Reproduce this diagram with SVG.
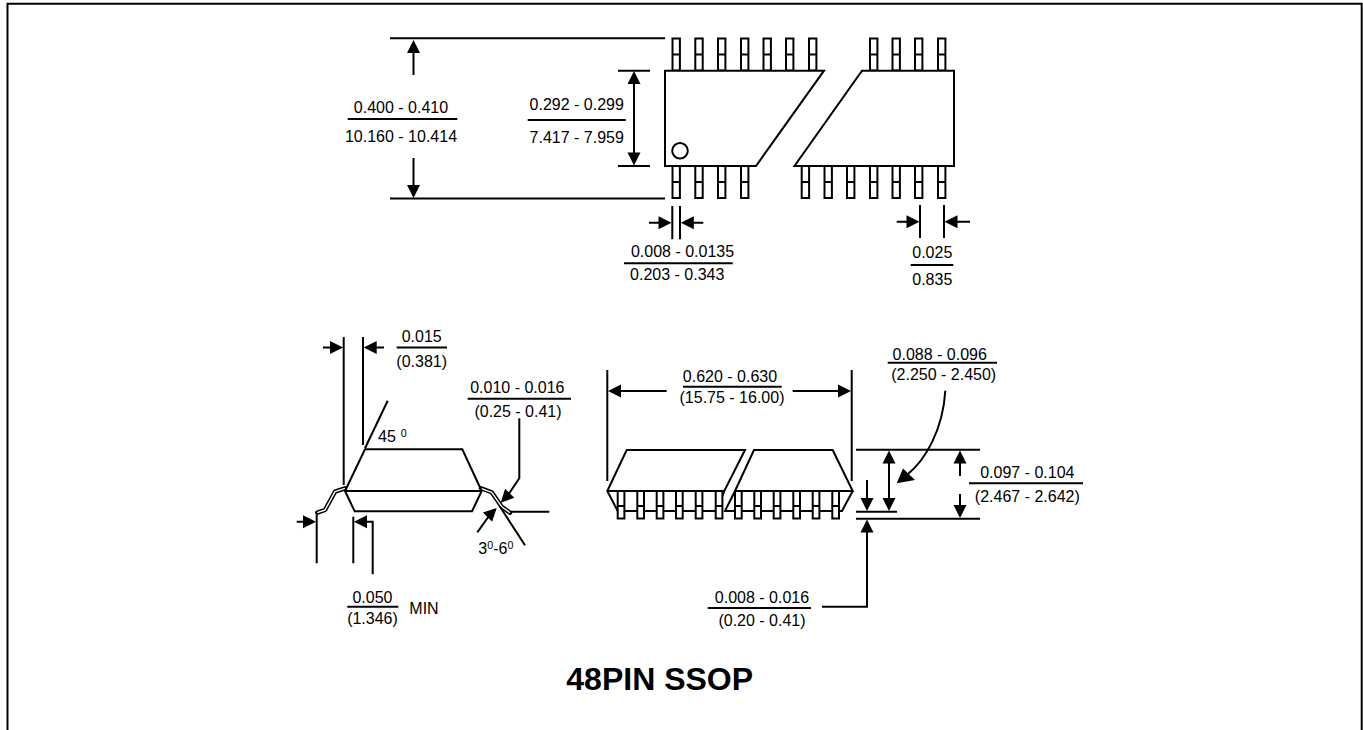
<svg xmlns="http://www.w3.org/2000/svg" width="1363" height="730" viewBox="0 0 1363 730">
<style>
text{font-family:"Liberation Sans",Arial,sans-serif;font-size:16px;fill:#000;text-anchor:middle}
.s{font-size:10.7px}
.l{fill:none;stroke:#000;stroke-width:2}
.b{fill:#fff;stroke:#000;stroke-width:2;stroke-linejoin:miter}
.t{fill:none;stroke:#000;stroke-width:2}
.p{fill:#fff;stroke:#000;stroke-width:2}
.a{fill:#000;stroke:none}
</style>
<defs>
<g id="pin"><rect class="p" x="0" y="0" width="7.4" height="32"/><path class="t" d="M0 16H7.4"/></g>
<g id="spin"><rect class="p" x="0" y="0" width="6.7" height="27.5"/><path class="t" d="M0 15H6.7"/></g>
<path id="ah" class="a" d="M0 0L-6.5 -13H6.5Z"/>
</defs>
<rect width="1363" height="730" fill="#fff"/>
<path id="frame" class="l" d="M7.5 730V3.7H1361.7V730"/>

<g id="top-package">
<g id="pins-top">
<use href="#pin" x="672.5" y="38.5"/><use href="#pin" x="695.3" y="38.5"/><use href="#pin" x="718" y="38.5"/><use href="#pin" x="741" y="38.5"/><use href="#pin" x="763.5" y="38.5"/><use href="#pin" x="786" y="38.5"/><use href="#pin" x="809" y="38.5"/>
<use href="#pin" x="870" y="38.5"/><use href="#pin" x="892.5" y="38.5"/><use href="#pin" x="915" y="38.5"/><use href="#pin" x="938" y="38.5"/>
</g>
<g id="pins-bottom">
<use href="#pin" x="672.5" y="166"/><use href="#pin" x="695.3" y="166"/><use href="#pin" x="718" y="166"/><use href="#pin" x="741" y="166"/>
<use href="#pin" x="801.7" y="166"/><use href="#pin" x="824.5" y="166"/><use href="#pin" x="847" y="166"/><use href="#pin" x="870" y="166"/><use href="#pin" x="892.5" y="166"/><use href="#pin" x="915" y="166"/><use href="#pin" x="938" y="166"/>
</g>
<path class="b" d="M665 70.7H824L756 166H665Z"/>
<path class="b" d="M862 70.7H954V166H794.5Z"/>
<circle class="l" cx="680" cy="150.7" r="7.8"/>
</g>

<g id="side-view-left">
<path d="M345 488.3L335 491.7L325 510L317.3 512.7" fill="none" stroke="#000" stroke-width="4.4" stroke-linejoin="round" stroke-linecap="round"/>
<path d="M345 488.3L335 491.7L325 510L317.3 512.7" fill="none" stroke="#fff" stroke-width="1.4" stroke-linejoin="round"/>
<path d="M481 488.3L491.7 492.3L501.7 506.7L510 512.7" fill="none" stroke="#000" stroke-width="4.4" stroke-linejoin="round" stroke-linecap="round"/>
<path d="M481 488.3L491.7 492.3L501.7 506.7L510 512.7" fill="none" stroke="#fff" stroke-width="1.4" stroke-linejoin="round"/>
<path class="l" d="M345 491L365 449.3H462.3L481.7 491L472 511.3H354.7L345 491H481.7"/>
</g>

<g id="side-view-right">
<path class="l" d="M607.3 491H724.3L745 450H626.7L607.3 491L617.7 511H723M724.3 491L721 499"/>
<path class="l" d="M735 491H852.7L832.7 450H754L735 491L725 511H842L852.7 491"/>
<g id="pins-side">
<use href="#spin" x="617.7" y="491"/><use href="#spin" x="637.3" y="491"/><use href="#spin" x="656.7" y="491"/><use href="#spin" x="676" y="491"/><use href="#spin" x="695.7" y="491"/><use href="#spin" x="715.7" y="491"/>
<use href="#spin" x="735" y="491"/><use href="#spin" x="754.3" y="491"/><use href="#spin" x="773.7" y="491"/><use href="#spin" x="793.3" y="491"/><use href="#spin" x="812.7" y="491"/><use href="#spin" x="832.3" y="491"/>
</g>
</g>

<g id="connectors">
<path class="l" d="M390 38.3H665M390 198.5H665M413.5 50V75M413.5 158V188"/>
<use href="#ah" transform="translate(413.5 40) rotate(180)"/><use href="#ah" transform="translate(413.5 198)"/>
<path class="l" d="M618 70.7H650M618 166H650M634 80V158"/>
<use href="#ah" transform="translate(634 71) rotate(180)"/><use href="#ah" transform="translate(634 165.5)"/>
<path class="l" d="M672.3 206V239.3M680 206V239.3M649 222.7H660M692 222.7H703.3"/>
<use href="#ah" transform="translate(671.5 222.7) rotate(-90)"/><use href="#ah" transform="translate(680.8 222.7) rotate(90)"/>
<path class="l" d="M920 205V238M944 205V238M896.7 221.7H908M956 221.7H970"/>
<use href="#ah" transform="translate(919.5 221.7) rotate(-90)"/><use href="#ah" transform="translate(944.5 221.7) rotate(90)"/>

<path class="l" d="M343.7 337V485M363 337V445M323 347.5H332M375 347.5H384"/>
<use href="#ah" transform="translate(343 347.5) rotate(-90)"/><use href="#ah" transform="translate(363.7 347.5) rotate(90)"/>
<path class="l" d="M365 448.3L387.7 400.7"/>
<path class="l" d="M510.7 511.7H549.3M500 506.7L525 545.3"/>
<path class="l" d="M519.3 418.3V478.3L508.3 494.7"/>
<use href="#ah" transform="translate(500.7 502.7) rotate(44)"/>
<path class="l" d="M477.3 532.3L489 516"/>
<use href="#ah" transform="translate(496.7 508) rotate(-135)"/>
<path class="l" d="M316.7 515V563.3M353.3 516.7V563.3M296.7 521.7H305M365 521.7H372.7V574.3"/>
<use href="#ah" transform="translate(316 521.7) rotate(-90)"/><use href="#ah" transform="translate(354 521.7) rotate(90)"/>

<path class="l" d="M607.3 370V481M851.7 370V481M620 391H666.7M792.7 391H840"/>
<use href="#ah" transform="translate(608 391) rotate(90)"/><use href="#ah" transform="translate(851 391) rotate(-90)"/>
<path class="l" d="M856 449.7H980M856 518.7H980M856 511.7H897M889 460V501M960 460V476M960 494V508M867 480V500M867 530V606.7H822"/>
<use href="#ah" transform="translate(889 450.5) rotate(180)"/><use href="#ah" transform="translate(889 511)"/>
<use href="#ah" transform="translate(960 450.5) rotate(180)"/><use href="#ah" transform="translate(960 518)"/>
<use href="#ah" transform="translate(867 511)"/><use href="#ah" transform="translate(867 519.5) rotate(180)"/>
<path class="l" d="M945.3 390.7C943 430 925 460 908 474"/>
<path class="a" d="M896.7 483.3L903 468.5L915 480Z"/>

<path class="t" d="M347.7 119H457.3M527.7 120H625.7M624 263.3H732.7M910.7 265H953.3M396.7 347.5H447M467.7 398.7H571M347.3 606.7H398.3M683 386.7H781.7M887.7 362.7H997M969 483.3H1083M707.7 608H811"/>
</g>

<g id="labels">
<text x="401" y="112.7">0.400 - 0.410</text><text x="401" y="142">10.160 - 10.414</text>
<text x="576.7" y="110">0.292 - 0.299</text><text x="576.7" y="143">7.417 - 7.959</text>
<text x="682.5" y="256.7">0.008 - 0.0135</text><text x="677.2" y="280">0.203 - 0.343</text>
<text x="932.3" y="258.3">0.025</text><text x="932.3" y="285">0.835</text>
<text x="421.7" y="341.7">0.015</text><text x="421.7" y="366.7">(0.381)</text>
<text x="387" y="441.7">45</text><text class="s" x="403.7" y="436.7">0</text>
<text x="517.3" y="393.3">0.010 - 0.016</text><text x="518" y="417.3">(0.25 - 0.41)</text>
<text x="478.3" y="554" style="text-anchor:start">3<tspan class="s" dy="-5">0</tspan><tspan dy="5">-6</tspan><tspan class="s" dy="-5">0</tspan></text>
<text x="372.5" y="602.7">0.050</text><text x="372.5" y="624">(1.346)</text><text x="424" y="613.5">MIN</text>
<text x="730" y="381.7">0.620 - 0.630</text><text x="732" y="403.3">(15.75 - 16.00)</text>
<text x="939.7" y="360">0.088 - 0.096</text><text x="943.7" y="380.3">(2.250 - 2.450)</text>
<text x="1027.3" y="478.3">0.097 - 0.104</text><text x="1027.3" y="501.7">(2.467 - 2.642)</text>
<text x="762" y="603">0.008 - 0.016</text><text x="762" y="625.7">(0.20 - 0.41)</text>
<text x="659.7" y="690" style="font-size:32px;font-weight:bold">48PIN SSOP</text>
</g>
</svg>
